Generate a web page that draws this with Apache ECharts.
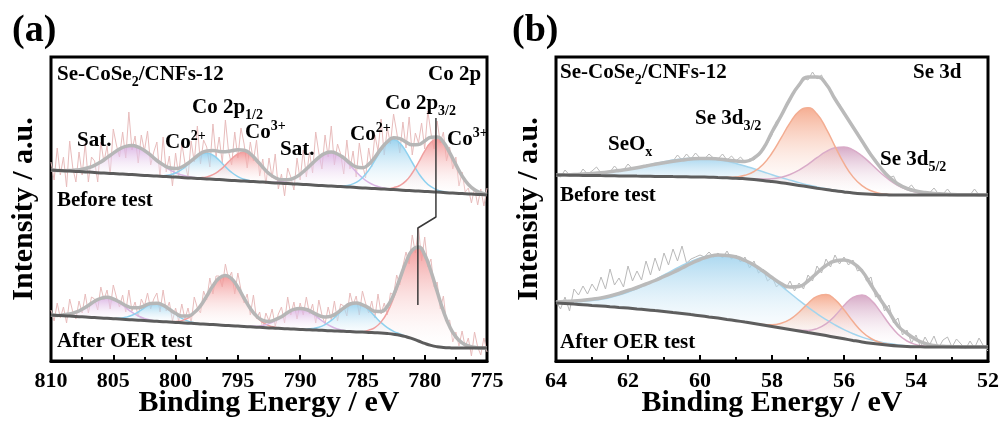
<!DOCTYPE html>
<html><head><meta charset="utf-8">
<script src="https://cdn.jsdelivr.net/npm/echarts/dist/echarts.min.js"></script>
<style>html,body{margin:0;padding:0;background:#fff}#c{width:1005px;height:424px}</style>
</head><body><div id="c"></div>
<script>
// ---------- Panel (a): Co 2p ----------
const coE = [810,809.5,809,808.5,808,807.5,807,806.5,806,805.5,805,804.5,804,803.5,803,802.5,802,801.5,801,800.5,800,799.5,799,798.5,798,797.5,797,796.5,796,795.5,795,794.5,794,793.5,793,792.5,792,791.5,791,790.5,790,789.5,789,788.5,788,787.5,787,786.5,786,785.5,785,784.5,784,783.5,783,782.5,782,781.5,781,780.5,780,779.5,779,778.5,778,777.5,777,776.5,776,775.5,775];
const coBgBefore = [191.0,190.6,190.3,189.9,189.6,189.2,188.9,188.5,188.1,187.8,187.4,187.1,186.7,186.4,186.0,185.6,185.3,184.9,184.6,184.2,183.9,183.5,183.1,182.8,182.4,182.1,181.7,181.4,181.0,180.6,180.3,179.9,179.6,179.2,178.9,178.5,178.1,177.8,177.4,177.1,176.7,176.4,176.0,175.6,175.3,174.9,174.6,174.2,173.9,173.5,173.1,172.8,172.4,172.1,171.7,171.4,171.0,170.6,170.3,169.9,169.6,169.2,168.9,168.5,168.1,167.8,167.4,167.1,166.7,166.4,166.0];
const coEnvBefore = [191.0,190.6,190.3,190.5,190.9,191.7,193.3,195.7,199.1,203.4,207.9,212.0,214.6,215.4,213.9,210.5,205.8,200.5,196.3,193.2,192.4,194.0,197.8,202.7,207.4,210.1,210.5,209.6,209.3,210.2,211.3,210.7,207.2,200.8,193.8,187.4,183.3,181.3,181.3,182.9,186.7,192.0,197.9,203.6,207.7,208.9,207.0,203.1,198.0,194.2,193.3,196.6,203.7,212.4,219.2,223.3,222.4,218.9,216.2,216.5,220.1,223.8,224.1,218.9,208.4,196.4,185.1,176.6,171.2,168.3,166.6];
const coSatB1 = [[809,0],[808.5,0.6],[808,1.3],[807.5,2.5],[807,4.4],[806.5,7.2],[806,11],[805.5,15.6],[805,20.5],[804.5,24.9],[804,27.9],[803.5,29],[803,27.9],[802.5,24.9],[802,20.5],[801.5,15.6],[801,11],[800.5,7.2],[800,4.4],[799.5,2.5],[799,1.3],[798.5,0.6],[798,0]];
const coCo2B1 = [[801.5,0],[801,0.7],[800.5,1.8],[800,4.1],[799.5,8],[799,13.4],[798.5,19.3],[798,24.2],[797.5,26],[797,24.2],[796.5,19.3],[796,13.4],[795.5,8],[795,4.1],[794.5,1.8],[794,0.7],[793.5,0]];
const coCo3B1 = [[798.5,0],[798,0.8],[797.5,2],[797,4.6],[796.5,8.9],[796,14.9],[795.5,21.6],[795,26.9],[794.5,29],[794,26.9],[793.5,21.6],[793,14.9],[792.5,8.9],[792,4.6],[791.5,2],[791,0.8],[790.5,0]];
const coSatB2 = [[792.5,0],[792,0.6],[791.5,1.5],[791,3.1],[790.5,5.8],[790,10],[789.5,15.6],[789,21.9],[788.5,28],[788,32.4],[787.5,34],[787,32.4],[786.5,28],[786,21.9],[785.5,15.6],[785,10],[784.5,5.8],[784,3.1],[783.5,1.5],[783,0.6],[782.5,0]];
const coCo2B2 = [[787,0],[786.5,0.9],[786,2.2],[785.5,5.1],[785,10.2],[784.5,18],[784,28.2],[783.5,38.8],[783,46.9],[782.5,50],[782,46.9],[781.5,38.8],[781,28.2],[780.5,18],[780,10.2],[779.5,5.1],[779,2.2],[778.5,0.9],[778,0]];
const coCo3B2 = [[783,0],[782.5,1.9],[782,4.5],[781.5,9.5],[781,17.7],[780.5,28.6],[780,40.3],[779.5,49.5],[779,53],[778.5,49.5],[778,40.3],[777.5,28.6],[777,17.7],[776.5,9.5],[776,4.5],[775.5,1.9],[775,0.6]];

const coBgAfter = [46.0,45.6,45.3,44.9,44.5,44.2,43.8,43.4,43.0,42.7,42.3,41.9,41.6,41.2,40.8,40.4,40.1,39.7,39.3,39.0,38.6,38.2,37.8,37.5,37.1,36.7,36.4,36.0,35.6,35.3,34.9,34.5,34.2,33.8,33.5,33.1,32.8,32.5,32.2,31.9,31.6,31.3,31.1,30.8,30.5,30.2,30.0,29.7,29.4,29.1,28.9,28.6,28.3,28.0,27.5,26.8,25.8,24.3,22.3,20.0,17.6,15.6,14.3,13.6,13.2,13.0,13.0,13.0,13.0,13.0,13.0];
const coEnvAfter = [46.0,45.6,46.2,47.0,48.8,51.8,55.6,59.7,62.7,63.7,62.0,59.0,55.5,53.3,53.3,55.2,57.5,57.7,55.8,51.7,47.7,44.9,45.0,48.5,55.1,64.9,75.2,82.9,85.6,82.2,73.7,62.7,52.6,44.9,40.7,39.6,41.3,44.3,48.5,51.6,52.6,51.5,48.7,45.5,44.0,44.9,48.4,53.1,57.0,58.1,56.1,53.2,49.7,49.5,54.6,66.0,82.2,98.9,110.8,114.0,106.1,89.7,69.4,49.9,34.4,24.1,18.1,15.1,13.8,13.0,13.0];
const coSatA1 = [[809.5,0],[809,0.9],[808.5,2.1],[808,4.3],[807.5,7.6],[807,11.8],[806.5,16.3],[806,19.7],[805.5,21],[805,19.7],[804.5,16.3],[804,11.8],[803.5,7.6],[803,4.3],[802.5,2.1],[802,0.9],[801.5,0]];
const coCo2A1 = [[805,0],[804.5,0.8],[804,2.1],[803.5,4.5],[803,8.2],[802.5,12.7],[802,16.5],[801.5,18],[801,16.5],[800.5,12.7],[800,8.2],[799.5,4.5],[799,2.1],[798.5,0.8],[798,0]];
const coCo3A1 = [[800.5,0],[800,0.9],[799.5,2.2],[799,5.1],[798.5,10.2],[798,18],[797.5,28.2],[797,38.8],[796.5,46.9],[796,50],[795.5,46.9],[795,38.8],[794.5,28.2],[794,18],[793.5,10.2],[793,5.1],[792.5,2.2],[792,0.9],[791.5,0]];
const coSatA2 = [[794.5,0],[794,0.4],[793.5,0.9],[793,2.1],[792.5,4.3],[792,7.6],[791.5,11.8],[791,16.3],[790.5,19.7],[790,21],[789.5,19.7],[789,16.3],[788.5,11.8],[788,7.6],[787.5,4.3],[787,2.1],[786.5,0.9],[786,0.4],[785.5,0]];
const coCo2A2 = [[790,0],[789.5,0.5],[789,1.3],[788.5,2.9],[788,5.9],[787.5,10.4],[787,16.3],[786.5,22.5],[786,27.2],[785.5,29],[785,27.2],[784.5,22.5],[784,16.3],[783.5,10.4],[783,5.9],[782.5,2.9],[782,1.3],[781.5,0.5],[781,0]];
const coCo3A2 = [[785,0],[784.5,2.1],[784,5.1],[783.5,11.1],[783,21.2],[782.5,36.3],[782,55.1],[781.5,74.1],[781,88.5],[780.5,94],[780,88.5],[779.5,74.1],[779,55.1],[778.5,36.3],[778,21.2],[777.5,11.1],[777,5.1],[776.5,2.1],[776,0.8],[775.5,0]];

const coRawE = [810,809.75,809.5,809.25,809,808.75,808.5,808.25,808,807.75,807.5,807.25,807,806.75,806.5,806.25,806,805.75,805.5,805.25,805,804.75,804.5,804.25,804,803.75,803.5,803.25,803,802.75,802.5,802.25,802,801.75,801.5,801.25,801,800.75,800.5,800.25,800,799.75,799.5,799.25,799,798.75,798.5,798.25,798,797.75,797.5,797.25,797,796.75,796.5,796.25,796,795.75,795.5,795.25,795,794.75,794.5,794.25,794,793.75,793.5,793.25,793,792.75,792.5,792.25,792,791.75,791.5,791.25,791,790.75,790.5,790.25,790,789.75,789.5,789.25,789,788.75,788.5,788.25,788,787.75,787.5,787.25,787,786.75,786.5,786.25,786,785.75,785.5,785.25,785,784.75,784.5,784.25,784,783.75,783.5,783.25,783,782.75,782.5,782.25,782,781.75,781.5,781.25,781,780.75,780.5,780.25,780,779.75,779.5,779.25,779,778.75,778.5,778.25,778,777.75,777.5,777.25,777,776.75,776.5,776.25,776,775.75,775.5,775.25,775];
const coRawBefore = [199,181,213,186,204,174,220,193,179,209,186,218,179,204,200,179,219,199,215,186,232,216,204,229,203,249,211,225,198,226,210,230,196,209,219,184,224,189,205,175,208,185,218,198,184,220,199,235,197,221,214,194,237,204,224,198,241,210,196,229,203,233,217,193,219,200,221,185,202,177,203,183,207,172,187,165,193,184,171,203,181,211,184,209,188,229,208,192,226,204,235,196,217,207,187,221,192,210,184,218,197,183,213,194,226,210,242,206,233,217,247,229,208,239,213,244,206,228,218,238,212,250,228,212,240,218,229,200,214,192,204,175,189,169,173,158,173,156,172,155,173];
const coRawAfter = [51,40,58,43,54,38,62,49,42,60,48,67,48,64,62,51,74,61,71,52,76,64,54,66,49,71,50,59,44,62,55,68,52,62,68,49,71,50,59,40,53,40,57,42,53,38,64,53,48,70,61,83,67,85,85,74,97,82,89,67,88,71,58,67,46,66,42,49,32,48,40,52,35,47,54,38,64,46,59,42,58,46,64,47,57,38,61,46,37,54,41,60,40,57,55,45,68,56,65,46,70,58,48,60,43,67,47,58,46,68,66,86,76,95,109,97,126,108,134,100,124,94,102,74,79,52,65,38,41,19,29,15,30,14,23,5,29,14,6,23,9];
const coShiftMarker = [[779.1,243],[779.1,144],[780.55,133],[780.55,56]];

// ---------- Panel (b): Se 3d ----------
const seE = [64,63.75,63.5,63.25,63,62.75,62.5,62.25,62,61.75,61.5,61.25,61,60.75,60.5,60.25,60,59.75,59.5,59.25,59,58.75,58.5,58.25,58,57.75,57.5,57.25,57,56.75,56.5,56.25,56,55.75,55.5,55.25,55,54.75,54.5,54.25,54,53.75,53.5,53.25,53,52.75,52.5,52.25,52];
const seBgBefore = [186,185.9,185.8,185.6,185.5,185.4,185.3,185.1,185,184.9,184.8,184.6,184.5,184.4,184.3,184.1,184,183.8,183.5,183.2,182.8,182.2,181.5,180.6,179.5,178.3,177,175.6,174.2,172.8,171.5,170.2,169.1,168.1,167.3,166.7,166.3,166.1,166,166,166,166,166,166,166,166,166,166,166];
const seEnvBefore = [186,186.2,186.5,187,187.6,188.3,189.3,190.5,191.8,193.3,195,196.7,198.3,199.8,201,202,202.5,202.5,202,201,200,199.5,203,212,229,245,262,276,284,284,277,262,248,234,220,206,194,184,177,172.5,170,168.5,167.5,167,166.5,166.3,166.2,166.1,166];
const seOxB = [[64,0.3],[63.75,0.5],[63.5,0.8],[63.25,1.3],[63,1.9],[62.75,2.8],[62.5,3.9],[62.25,5.2],[62,6.8],[61.75,8.7],[61.5,10.7],[61.25,12.8],[61,14.7],[60.75,16.5],[60.5,17.8],[60.25,18.7],[60,19],[59.75,18.7],[59.5,17.8],[59.25,16.5],[59,14.7],[58.75,12.8],[58.5,10.7],[58.25,8.7],[58,6.8],[57.75,5.2],[57.5,3.9],[57.25,2.8],[57,1.9],[56.75,1.3],[56.5,0.8],[56.25,0.5],[56,0.3],[55.75,0]];
const se32B = [[59.5,0],[59.25,0.4],[59,1.3],[58.75,3.5],[58.5,8],[58.25,16],[58,28.5],[57.75,44.5],[57.5,61.2],[57.25,74.1],[57,79],[56.75,74.1],[56.5,61.2],[56.25,44.5],[56,28.5],[55.75,16],[55.5,8],[55.25,3.5],[55,1.3],[54.75,0.4],[54.5,0]];
const se52B = [[58.75,0],[58.5,0.6],[58.25,1.4],[58,2.8],[57.75,5.4],[57.5,9.5],[57.25,15.3],[57,22.5],[56.75,30.5],[56.5,37.8],[56.25,43.1],[56,45],[55.75,43.1],[55.5,37.8],[55.25,30.5],[55,22.5],[54.75,15.3],[54.5,9.5],[54.25,5.4],[54,2.8],[53.75,1.4],[53.5,0.6],[53.25,0]];

const seBgAfter = [58,57.5,56.9,56.3,55.6,55,54.3,53.6,52.9,52.1,51.3,50.4,49.5,48.5,47.5,46.4,45.3,44.1,42.9,41.6,40.3,38.9,37.5,36,34.5,33,31.5,30,28.5,27,25.4,23.8,22.2,20.6,19.1,17.8,16.7,15.8,15.1,14.6,14.3,14.1,14,14,14,14,14,14,14];
const seEnvAfter = [59,59.5,60,60.8,61.8,63,65,67.5,70.5,73.5,77,80.5,84.5,88.5,93,97.5,101.5,104.5,106,105.5,104,100.5,96,90,83.5,77.5,74,74.5,80,88,95.5,100,101,98,90,76,62,49,35,27.5,21.5,17.5,15.5,14.7,14.3,14.1,14,14,14];
const seOxA = [[64,1],[63.75,1.6],[63.5,2.3],[63.25,3.4],[63,4.8],[62.75,6.7],[62.5,9.2],[62.25,12.3],[62,16],[61.75,20.3],[61.5,25.3],[61.25,30.7],[61,36.5],[60.75,42.3],[60.5,48.1],[60.25,53.2],[60,57.7],[59.75,61.1],[59.5,63.3],[59.25,64],[59,63.3],[58.75,61.1],[58.5,57.7],[58.25,53.2],[58,48.1],[57.75,42.3],[57.5,36.5],[57.25,30.7],[57,25.3],[56.75,20.3],[56.5,16],[56.25,12.3],[56,9.2],[55.75,6.7],[55.5,4.8],[55.25,3.4],[55,2.3],[54.75,1.6],[54.5,1],[54.25,0.6],[54,0]];
const se32A = [[58.5,0],[58.25,0.6],[58,1.8],[57.75,4.7],[57.5,10.2],[57.25,18.8],[57,29],[56.75,37.6],[56.5,41],[56.25,37.6],[56,29],[55.75,18.8],[55.5,10.2],[55.25,4.7],[55,1.8],[54.75,0.6],[54.5,0]];
const se52A = [[57.5,0],[57.25,0.7],[57,2.1],[56.75,5.4],[56.5,11.7],[56.25,21.5],[56,33.2],[55.75,43.1],[55.5,47],[55.25,43.1],[55,33.2],[54.75,21.5],[54.5,11.7],[54.25,5.4],[54,2.1],[53.75,0.7],[53.5,0]];

const seRawE = [64,63.875,63.75,63.625,63.5,63.375,63.25,63.125,63,62.875,62.75,62.625,62.5,62.375,62.25,62.125,62,61.875,61.75,61.625,61.5,61.375,61.25,61.125,61,60.875,60.75,60.625,60.5,60.375,60.25,60.125,60,59.875,59.75,59.625,59.5,59.375,59.25,59.125,59,58.875,58.75,58.625,58.5,58.375,58.25,58.125,58,57.875,57.75,57.625,57.5,57.375,57.25,57.125,57,56.875,56.75,56.625,56.5,56.375,56.25,56.125,56,55.875,55.75,55.625,55.5,55.375,55.25,55.125,55,54.875,54.75,54.625,54.5,54.375,54.25,54.125,54,53.875,53.75,53.625,53.5,53.375,53.25,53.125,53,52.875,52.75,52.625,52.5,52.375,52.25,52.125,52];
const seRawBefore = [186,184,191,186,186,185,192,187,190,194,188,188,189,195,190,191,197,192,193,194,195,196,197,198,198,199,200,206,201,207,202,208,203,202,207,203,202,207,201,205,200,204,199,202,201,206,214,218,226,240,243,255,260,271,274,283,281,289,282,286,275,271,260,257,247,242,233,229,218,214,205,202,193,190,183,185,176,175,172,176,170,169,168,168,173,167,167,172,166,166,166,166,166,172,166,166,166];
const seRawAfter = [60,52,64,50,72,66,75,67,77,70,84,72,92,76,83,74,95,80,90,81,100,86,103,90,108,96,112,100,115,98,102,104,106,104,109,104,108,103,110,102,106,99,104,93,100,88,92,80,84,74,79,72,80,70,78,72,86,80,95,88,102,94,106,97,104,96,101,90,92,80,84,64,66,50,56,38,43,26,31,18,26,14,24,16,25,13,21,24,14,22,17,12,20,13,23,15,10];

// ---------- helpers ----------
const FONT = "'Liberation Serif','Times New Roman',Times,serif";
const pair = (E, V) => E.map((e, i) => [e, V[i]]);
// stacked series: value first (stacked dim), energy second; encode maps it back
const stkBase = (E, V) => E.map((e, i) => [V[i], e]);
const stkPeak = (E, pk) => { const m = new Map(pk); return E.map(e => [m.has(e) ? m.get(e) : '-', e]); };
const grad = c => ({type:'linear', x:0, y:0, x2:0, y2:1, colorStops:[{offset:0, color:c}, {offset:1, color:'rgba(255,255,255,0.12)'}]});
const COL = {
  sat:  {line:'#d8b4e2', top:'rgba(214,170,224,0.85)'},
  co2:  {line:'#8fd1ef', top:'rgba(140,204,236,0.85)'},
  co3:  {line:'#f0a0a0', top:'rgba(240,140,140,0.85)'},
  seox: {line:'#a3d5ee', top:'rgba(150,206,236,0.8)'},
  se32: {line:'#f3ad92', top:'rgba(244,160,128,0.85)'},
  se52: {line:'#d9abc8', top:'rgba(204,148,184,0.8)'}
};
const series = [];
let sid = 0;
function addRaw(ax, E, V, color){ series.push({type:'line', xAxisIndex:ax, yAxisIndex:ax, data:pair(E,V), symbol:'none', silent:true, lineStyle:{color:color, width:1}, z:2}); }
function addPeak(ax, E, bg, pk, col){
  const st = 'stk' + (sid++);
  series.push({type:'line', xAxisIndex:ax, yAxisIndex:ax, stack:st, encode:{x:1, y:0}, data:stkBase(E,bg), symbol:'none', smooth:true, silent:true, lineStyle:{width:0, opacity:0}, z:3});
  series.push({type:'line', xAxisIndex:ax, yAxisIndex:ax, stack:st, encode:{x:1, y:0}, data:stkPeak(E,pk), symbol:'none', smooth:true, connectNulls:false, silent:true, lineStyle:{color:col.line, width:1.5}, areaStyle:{color:grad(col.top), opacity:1}, z:3});
}
function addLine(ax, E, V, color, w, z){ series.push({type:'line', xAxisIndex:ax, yAxisIndex:ax, data:pair(E,V), symbol:'none', smooth:true, silent:true, lineStyle:{color:color, width:w}, z:z}); }

// panel a
addRaw(0, coRawE, coRawBefore, '#e8bcbc');
addRaw(0, coRawE, coRawAfter, '#e8bcbc');
addPeak(0, coE, coBgBefore, coSatB1, COL.sat);
addPeak(0, coE, coBgBefore, coCo2B1, COL.co2);
addPeak(0, coE, coBgBefore, coCo3B1, COL.co3);
addPeak(0, coE, coBgBefore, coSatB2, COL.sat);
addPeak(0, coE, coBgBefore, coCo2B2, COL.co2);
addPeak(0, coE, coBgBefore, coCo3B2, COL.co3);
addPeak(0, coE, coBgAfter, coSatA1, COL.sat);
addPeak(0, coE, coBgAfter, coCo2A1, COL.co2);
addPeak(0, coE, coBgAfter, coCo3A1, COL.co3);
addPeak(0, coE, coBgAfter, coSatA2, COL.sat);
addPeak(0, coE, coBgAfter, coCo2A2, COL.co2);
addPeak(0, coE, coBgAfter, coCo3A2, COL.co3);
addLine(0, coE, coEnvBefore, '#b6b6b6', 3.5, 4);
addLine(0, coE, coEnvAfter, '#b6b6b6', 3.5, 4);
addLine(0, coE, coBgBefore, '#5c5c5c', 3, 5);
addLine(0, coE, coBgAfter, '#5c5c5c', 3, 5);
series.push({type:'line', xAxisIndex:0, yAxisIndex:0, data:coShiftMarker, symbol:'none', silent:true, lineStyle:{color:'#3a3a3a', width:1.5}, z:6});

// panel b
addRaw(1, seRawE, seRawBefore, '#b9b9b9');
addRaw(1, seRawE, seRawAfter, '#b9b9b9');
addPeak(1, seE, seBgBefore, seOxB, COL.seox);
addPeak(1, seE, seBgBefore, se52B, COL.se52);
addPeak(1, seE, seBgBefore, se32B, COL.se32);
addPeak(1, seE, seBgAfter, seOxA, COL.seox);
addPeak(1, seE, seBgAfter, se52A, COL.se52);
addPeak(1, seE, seBgAfter, se32A, COL.se32);
addLine(1, seE, seEnvBefore, '#bababa', 3.5, 4);
addLine(1, seE, seEnvAfter, '#bababa', 3.5, 4);
addLine(1, seE, seBgBefore, '#5e5e5e', 3, 5);
addLine(1, seE, seBgAfter, '#5e5e5e', 3, 5);

function xAx(g, mn, mx, iv){
  return {gridIndex:g, type:'value', inverse:true, min:mn, max:mx, interval:iv,
    axisLine:{show:true, onZero:false, lineStyle:{color:'#000', width:3}},
    axisTick:{show:true, inside:true, length:6, lineStyle:{color:'#000', width:2}},
    minorTick:{show:true, splitNumber:2, length:4, lineStyle:{color:'#000', width:2}},
    splitLine:{show:false}, minorSplitLine:{show:false},
    axisLabel:{color:'#000', fontFamily:FONT, fontWeight:'bold', fontSize:22, margin:9, showMinLabel:true, showMaxLabel:true},
    name:'Binding Energy / eV', nameLocation:'middle', nameGap:27, nameMoveOverlap:false,
    nameTextStyle:{color:'#000', fontFamily:FONT, fontWeight:'bold', fontSize:30}};
}
function yAx(g){
  return {gridIndex:g, type:'value', min:0, max:304,
    axisLine:{show:false}, axisTick:{show:false}, axisLabel:{show:false}, splitLine:{show:false},
    name:'Intensity / a.u.', nameLocation:'middle', nameGap:12, nameRotate:90, nameMoveOverlap:false,
    nameTextStyle:{color:'#000', fontFamily:FONT, fontWeight:'bold', fontSize:30}};
}
const RICH = {
  m:{fontFamily:FONT, fontWeight:'bold', fontSize:21, lineHeight:28, fill:'#000', verticalAlign:'middle'},
  s:{fontFamily:FONT, fontWeight:'bold', fontSize:14, lineHeight:12, fill:'#000', verticalAlign:'bottom'},
  u:{fontFamily:FONT, fontWeight:'bold', fontSize:14, lineHeight:16, fill:'#000', verticalAlign:'top'}
};
function lab(x, base, t){
  return {type:'text', x:x, y:base-21, z:50, silent:true,
    style:{text:t, rich:RICH, align:'left', verticalAlign:'top', fill:'#000', fontFamily:FONT, fontWeight:'bold', fontSize:21}};
}
const labels = [
  lab(57, 82, '{m|Se-CoSe}{s|2}{m|/CNFs-12}'),
  lab(428, 82, '{m|Co 2p}'),
  lab(192, 115, '{m|Co 2p}{s|1/2}'),
  lab(385, 111, '{m|Co 2p}{s|3/2}'),
  lab(77, 148, '{m|Sat.}'),
  lab(165, 150, '{m|Co}{u|2+}'),
  lab(245, 140, '{m|Co}{u|3+}'),
  lab(280, 157, '{m|Sat.}'),
  lab(350, 142, '{m|Co}{u|2+}'),
  lab(447, 147, '{m|Co}{u|3+}'),
  lab(57, 208, '{m|Before test}'),
  lab(57, 349, '{m|After OER test}'),
  lab(560, 80, '{m|Se-CoSe}{s|2}{m|/CNFs-12}'),
  lab(913, 80, '{m|Se 3d}'),
  lab(695, 126, '{m|Se 3d}{s|3/2}'),
  lab(608, 152, '{m|SeO}{s|x}'),
  lab(880, 167, '{m|Se 3d}{s|5/2}'),
  lab(560, 203, '{m|Before test}'),
  lab(560, 350, '{m|After OER test}'),
  {type:'text', x:12, y:31, z:50, silent:true, style:{text:'(a)', fill:'#000', fontFamily:FONT, fontWeight:'bold', fontSize:38, align:'left', verticalAlign:'middle'}},
  {type:'text', x:512, y:31, z:50, silent:true, style:{text:'(b)', fill:'#000', fontFamily:FONT, fontWeight:'bold', fontSize:38, align:'left', verticalAlign:'middle'}}
];

const chart = echarts.init(document.getElementById('c'), null, {renderer:'canvas', width:1005, height:424});
chart.setOption({
  animation:false,
  backgroundColor:'#fff',
  grid:[
    {left:51, top:57, width:436, height:304, show:true, borderColor:'#000', borderWidth:3, backgroundColor:'rgba(0,0,0,0)', containLabel:false, outerBoundsMode:'none'},
    {left:556, top:57, width:432, height:304, show:true, borderColor:'#000', borderWidth:3, backgroundColor:'rgba(0,0,0,0)', containLabel:false, outerBoundsMode:'none'}
  ],
  xAxis:[xAx(0, 775, 810, 5), xAx(1, 52, 64, 2)],
  yAxis:[yAx(0), yAx(1)],
  series: series,
  graphic: labels
});
</script>
</body></html>
